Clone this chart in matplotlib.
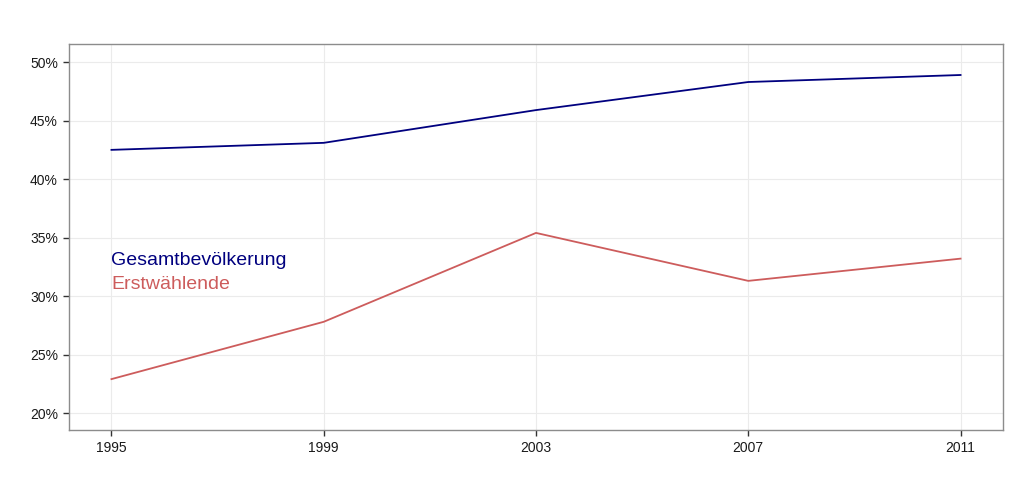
import matplotlib
matplotlib.use("Agg")
import matplotlib.pyplot as plt
from matplotlib.ticker import FuncFormatter

plt.rcParams['font.family'] = ['Liberation Sans', 'DejaVu Sans']

# Wahlbeteiligung-like shares
years = [1995, 1999, 2003, 2007, 2011]
gesamt = [42.5, 43.1, 45.9, 48.3, 48.9]
erst = [22.9, 27.8, 35.4, 31.3, 33.2]
y_ticks = [20, 25, 30, 35, 40, 45, 50]

fig = plt.figure(figsize=(10.24, 4.82), dpi=100)
ax = fig.add_axes([69/1024, 52/482, 934/1024, 386/482])

ax.plot(years, gesamt, color='#00007f', lw=1.3)
ax.plot(years, erst, color='#cd5c5c', lw=1.3)

ax.text(1995, 33.0, 'Gesamtbevölkerung', color='#00007f', fontsize=14, va='center', ha='left')
ax.text(1995, 30.95, 'Erstwählende', color='#cd5c5c', fontsize=14, va='center', ha='left')

ax.set_xlim(1994.2, 2011.8)
ax.set_ylim(18.55, 51.55)
ax.set_xticks(years)
ax.set_yticks(y_ticks)
ax.yaxis.set_major_formatter(FuncFormatter(lambda v, p: '%d%%' % v))

ax.grid(True, color='#ebebeb', lw=0.8)
ax.set_axisbelow(True)
for s in ax.spines.values():
    s.set_color('#8c8c8c')
    s.set_linewidth(1.0)
ax.tick_params(axis='both', length=4, width=1, color='#333333', labelsize=10, labelcolor='#1a1a1a', pad=4)

fig.savefig('out.png', dpi=100)
